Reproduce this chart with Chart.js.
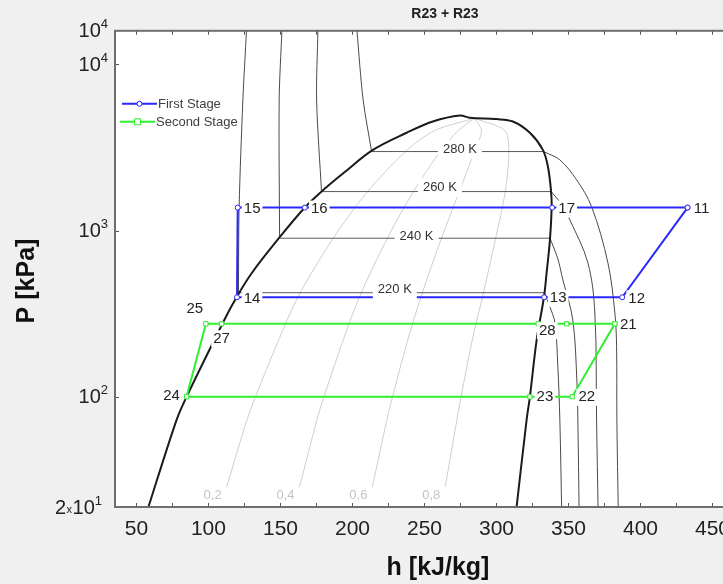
<!DOCTYPE html>
<html>
<head>
<meta charset="utf-8">
<script src="https://cdn.jsdelivr.net/npm/chart.js@4.4.1/dist/chart.umd.min.js"></script>
<style>
  html, body { margin: 0; padding: 0; background: #f0f0f0; overflow: hidden; }
  #wrap { width: 723px; height: 584px; overflow: hidden; }
  canvas { display: block; }
</style>
</head>
<body>
<div id="wrap"><canvas id="chart" width="780" height="584"></canvas></div>
<script>
// P-h diagram of R23 (h in kJ/kg, P in kPa)

// saturation dome
const domeH = [57, 77.8, 84.8, 111, 119.5, 130.1, 149.6, 166.9, 177.4, 194, 214.2, 237.6, 255.8, 274.6, 281.5, 300, 311.4, 323.2, 332.2, 335.7, 337.8, 338.3, 337.1, 334.8, 333, 327.9, 323.2, 320.9, 313.5];
const domeP = [20, 72.4, 100, 290, 397, 556, 916, 1377, 1687, 2228, 3061, 3881, 4539, 4932, 4775, 4690, 4539, 3881, 3061, 2432, 1758, 1396, 879, 556, 400, 220, 100, 72.4, 20];

// constant quality lines
const qualityP = [28.6, 72, 100, 220, 400, 900, 1700, 3000, 4000, 4700];
const quality02H = [112.6, 126.6, 132.6, 148.8, 162.2, 186.6, 210, 237, 257, 283];
const quality04H = [163.2, 175.2, 180.2, 193.6, 204.9, 224.2, 242, 261, 273.4, 284];
const quality06H = [213.8, 223.8, 227.8, 238.4, 247.6, 261.8, 274, 284.7, 289.6, 285];
const quality08H = [264.4, 272.4, 275.4, 283.2, 290.3, 299.4, 306, 308.6, 305.8, 286];
const qualityNames = ['0,2', '0,4', '0,6', '0,8'];

// isotherms: liquid part, two-phase part, vapour part
const isoNames = ['220 K', '240 K', '260 K', '280 K'];
const iso220LiqH = [126.4, 123.9, 121.3, 120.8];
const iso220LiqP = [16000, 6120, 1390, 423];
const iso240LiqH = [151, 149.1, 149.4];
const iso240LiqP = [16000, 6120, 900];
const iso260LiqH = [176, 175.1, 178.5];
const iso260LiqP = [16000, 6120, 1718];
const iso280LiqH = [203.1, 207.4, 213.3];
const iso280LiqP = [16000, 6120, 2992];

const isoSatLeftH = [120.8, 149.4, 178.5, 213.3];
const isoSatRightH = [333.3, 337.1, 338, 332.6];
const isoSatP = [423, 900, 1718, 2992];
const isoLabelH = [229.4, 244.5, 260.7, 274.6];

const iso220VapH = [333.3, 337.1, 340.6, 342.6, 344, 345.3];
const iso220VapP = [423, 348, 278, 152, 72.4, 20];
const iso240VapH = [337.1, 342.4, 346.1, 353, 355.8, 356.5, 357.4];
const iso240VapP = [900, 686, 505, 290, 126, 72.4, 20];
const iso260VapH = [338, 345.4, 351, 363.5, 368.3, 369.5, 370.6];
const iso260VapP = [1718, 1429, 1159, 638, 319, 72.4, 20];
const iso280VapH = [332.6, 344, 355.6, 366, 377.4, 382.2, 383.4, 383.6, 384.6];
const iso280VapP = [2992, 2666, 2023, 1396, 638, 319, 200, 72.4, 20];

// refrigeration cycles
const stage1Names = ['11', '12', '13', '14', '15', '16', '17', ''];
const stage1H = [432.7, 387.3, 333.1, 119.8, 120.3, 166.9, 338.7, 432.7];
const stage1P = [1376, 397, 397, 397, 1376, 1376, 1376, 1376];
const stage2Names = ['21', '22', '23', '24', '25', '27', '28', '', ''];
const stage2H = [382.2, 352.6, 323.2, 84.8, 98.2, 109.1, 329, 348.7, 382.2];
const stage2P = [275, 100, 100, 100, 275, 275, 275, 275, 275];

// axis ticks
const xTicks = [50, 100, 150, 200, 250, 300, 350, 400, 450];
const yTicks = [21.7, 100, 1000, 10000, 15950];
const yTickMant = ['2', '', '', '', ''];
const yTickExp = ['1', '2', '3', '4', '4'];

// ---- layout / style (pixels, not data) ----
const FONT = "'Liberation Sans', Arial, sans-serif";
const BLUE = '#2828ff';
const GREEN = '#2ef02e';
const labelOffsets = {
  '11': [14, 1.5], '12': [14.5, 1.5], '13': [14, 1], '14': [15, 1.5], '15': [14.5, 1.5],
  '16': [14.5, 1.5], '17': [14.5, 1.5], '21': [13.5, 1.5], '22': [14.5, 0.5], '23': [15, 0.5],
  '24': [-15, -0.5], '25': [-11, -15], '27': [0, 15], '28': [9, 7]
};
const isoLabelDy = [-3, -2, -4, -2];
const yLabelGap = [13, 7, 7, 7, 7];

const pts = (hs, ps) => hs.map((h, i) => ({ x: h, y: ps[i] }));

function curve(data, color, width, order, tension) {
  return {
    data: data, showLine: true, borderColor: color, borderWidth: width,
    pointRadius: 0, tension: tension, order: order, fill: false
  };
}

const datasets = [];
// cycles on top
datasets.push({
  label: 'First Stage', data: pts(stage1H, stage1P), showLine: true,
  borderColor: BLUE, borderWidth: 2, tension: 0, order: 0,
  pointRadius: 2.5, pointStyle: 'circle', pointBackgroundColor: '#fff',
  pointBorderColor: BLUE, pointBorderWidth: 1
});
datasets.push({
  label: 'Second Stage', data: pts(stage2H, stage2P), showLine: true,
  borderColor: GREEN, borderWidth: 2, tension: 0, order: 0,
  pointRadius: 3, pointStyle: 'rect', pointBackgroundColor: '#fff',
  pointBorderColor: GREEN, pointBorderWidth: 1
});
datasets.push(curve(pts(domeH, domeP), '#1a1a1a', 2, 1, 0.35));

const liq = [[iso220LiqH, iso220LiqP], [iso240LiqH, iso240LiqP], [iso260LiqH, iso260LiqP], [iso280LiqH, iso280LiqP]];
const vap = [[iso220VapH, iso220VapP], [iso240VapH, iso240VapP], [iso260VapH, iso260VapP], [iso280VapH, iso280VapP]];
liq.forEach(([h, p]) => datasets.push(curve(pts(h, p), '#4a4a4a', 1, 2, 0.3)));
vap.forEach(([h, p]) => datasets.push(curve(pts(h, p), '#4a4a4a', 1, 2, 0.35)));
isoSatP.forEach((p, i) => datasets.push(curve(pts([isoSatLeftH[i], isoSatRightH[i]], [p, p]), '#5a5a5a', 1, 2, 0)));

const qualityLines = [quality02H, quality04H, quality06H, quality08H];
qualityLines.forEach(h => datasets.push(curve(pts(h, qualityP), '#cfcfcf', 1, 3, 0.3)));

function textBox(ctx, text, x, y, padX, h) {
  const w = ctx.measureText(text).width + padX * 2;
  ctx.fillStyle = '#fff';
  ctx.fillRect(x - w / 2, y - h / 2, w, h);
}

// "m x 10^e" label, right aligned at x
function drawPower(ctx, mant, exp, right, y) {
  ctx.textBaseline = 'middle';
  ctx.textAlign = 'left';
  ctx.font = '13px ' + FONT;
  const ew = ctx.measureText(exp).width;
  ctx.font = '20px ' + FONT;
  const tw = ctx.measureText('10').width;
  let mw = 0, xw = 0;
  if (mant) {
    mw = ctx.measureText(mant).width;
    ctx.font = '11px ' + FONT;
    xw = ctx.measureText('x').width + 1;
  }
  let x0 = right - ew - tw - xw - mw;
  ctx.fillStyle = '#222';
  if (mant) {
    ctx.font = '20px ' + FONT;
    ctx.fillText(mant, x0, y);
    ctx.font = '11px ' + FONT;
    ctx.fillText('x', x0 + mw + 0.5, y + 2);
    x0 += mw + xw;
  }
  ctx.font = '20px ' + FONT;
  ctx.fillText('10', x0, y);
  ctx.font = '13px ' + FONT;
  ctx.fillText(exp, x0 + tw, y - 7);
}

const background = {
  id: 'background',
  beforeDraw(chart) {
    const { ctx, chartArea: a } = chart;
    ctx.save();
    ctx.fillStyle = '#f0f0f0';
    ctx.fillRect(0, 0, chart.width, chart.height);
    ctx.fillStyle = '#fff';
    ctx.fillRect(a.left, a.top, a.right - a.left, a.bottom - a.top);
    ctx.restore();
  }
};

const annotations = {
  id: 'annotations',
  afterDatasetsDraw(chart) {
    const { ctx, chartArea: a, scales: { x, y } } = chart;
    ctx.save();
    ctx.beginPath();
    ctx.rect(a.left, a.top, a.right - a.left, a.bottom - a.top);
    ctx.clip();
    ctx.textAlign = 'center';
    ctx.textBaseline = 'middle';

    // quality labels at the lower end of each line
    ctx.font = '13px ' + FONT;
    ctx.fillStyle = '#c4c4c4';
    qualityLines.forEach((h, i) => {
      ctx.fillText(qualityNames[i], x.getPixelForValue(h[0]) - 14, y.getPixelForValue(qualityP[0]) + 8);
    });

    // isotherm labels
    ctx.font = '13px ' + FONT;
    isoNames.forEach((name, i) => {
      const px = x.getPixelForValue(isoLabelH[i]);
      const py = y.getPixelForValue(isoSatP[i]) + isoLabelDy[i];
      textBox(ctx, name, px, py, 5, 19);
      ctx.fillStyle = '#333';
      ctx.fillText(name, px, py);
    });

    // state point numbers
    ctx.font = '15px ' + FONT;
    [[0, stage1Names], [1, stage2Names]].forEach(([idx, names]) => {
      const meta = chart.getDatasetMeta(idx);
      meta.data.forEach((el, j) => {
        const name = names[j];
        if (!name) return;
        const off = labelOffsets[name];
        const px = el.x + off[0], py = el.y + off[1];
        textBox(ctx, name, px, py, 2, 17);
        ctx.fillStyle = '#222';
        ctx.fillText(name, px, py);
      });
    });
    ctx.restore();
  },
  afterDraw(chart) {
    const { ctx, chartArea: a, scales: { x, y } } = chart;
    ctx.save();
    // inward ticks
    ctx.strokeStyle = '#555';
    ctx.lineWidth = 1;
    ctx.beginPath();
    for (let v = 50; v < x.max; v += 25) {
      const px = Math.round(x.getPixelForValue(v)) + 0.5;
      ctx.moveTo(px, a.bottom); ctx.lineTo(px, a.bottom - 4);
      ctx.moveTo(px, a.top); ctx.lineTo(px, a.top + 4);
    }
    [100, 1000, 10000].forEach(v => {
      const py = Math.round(y.getPixelForValue(v)) + 0.5;
      ctx.moveTo(a.left, py); ctx.lineTo(a.left + 4, py);
    });
    ctx.stroke();

    // frame
    ctx.strokeStyle = '#6e6e6e';
    ctx.lineWidth = 2;
    ctx.strokeRect(a.left, a.top, a.right - a.left, a.bottom - a.top);

    // y tick labels with superscripts
    yTicks.forEach((v, i) => {
      drawPower(ctx, yTickMant[i], yTickExp[i], a.left - yLabelGap[i], y.getPixelForValue(v) + 1);
    });

    // axis titles
    ctx.fillStyle = '#111';
    ctx.font = 'bold 25px ' + FONT;
    ctx.textAlign = 'center';
    ctx.textBaseline = 'middle';
    ctx.fillText('h [kJ/kg]', 438, 568);
    ctx.save();
    ctx.translate(27, 281);
    ctx.rotate(-Math.PI / 2);
    ctx.fillText('P [kPa]', 0, 0);
    ctx.restore();

    // legend
    const items = [
      { text: 'First Stage', color: BLUE, style: 'circle', x0: a.left + 7, x1: a.left + 42, y: a.top + 73 },
      { text: 'Second Stage', color: GREEN, style: 'rect', x0: a.left + 5, x1: a.left + 40, y: a.top + 91 }
    ];
    ctx.font = '13px ' + FONT;
    ctx.textAlign = 'left';
    ctx.textBaseline = 'middle';
    items.forEach(it => {
      ctx.strokeStyle = it.color;
      ctx.lineWidth = 2;
      ctx.beginPath();
      ctx.moveTo(it.x0, it.y); ctx.lineTo(it.x1, it.y);
      ctx.stroke();
      const mx = (it.x0 + it.x1) / 2;
      ctx.fillStyle = '#fff';
      ctx.lineWidth = 1;
      ctx.beginPath();
      if (it.style === 'circle') ctx.arc(mx, it.y, 2.5, 0, Math.PI * 2);
      else ctx.rect(mx - 3, it.y - 3, 6, 6);
      ctx.fill(); ctx.stroke();
      ctx.fillStyle = '#404040';
      ctx.fillText(it.text, it.x1 + 1, it.y + 1);
    });
    ctx.restore();
  }
};

Chart.defaults.font.family = FONT;

new Chart(document.getElementById('chart'), {
  type: 'scatter',
  data: { datasets: datasets },
  options: {
    responsive: false,
    animation: false,
    devicePixelRatio: 1,
    layout: { padding: { left: 0, right: 5, top: 0, bottom: 0 } },
    plugins: {
      legend: { display: false },
      tooltip: { enabled: false },
      title: {
        display: true, text: 'R23 + R23', fullSize: false, color: '#222',
        font: { size: 14, weight: 'bold' }, padding: { top: 6, bottom: 8 }
      }
    },
    scales: {
      x: {
        type: 'linear', min: 35.1, max: 493.4,
        grid: { display: false, drawTicks: false },
        border: { display: false },
        afterBuildTicks: s => { s.ticks = xTicks.map(v => ({ value: v })); },
        afterFit: s => { s.height = 77; },
        ticks: { color: '#222', font: { size: 21 }, padding: 10, maxRotation: 0 },
        title: { display: false }
      },
      y: {
        type: 'logarithmic', min: 21.7, max: 15950,
        grid: { display: false, drawTicks: false },
        border: { display: false },
        afterBuildTicks: s => { s.ticks = yTicks.map(v => ({ value: v })); },
        afterFit: s => { s.width = 115; },
        ticks: { display: false },
        title: { display: false }
      }
    }
  },
  plugins: [background, annotations]
});
</script>
</body>
</html>
